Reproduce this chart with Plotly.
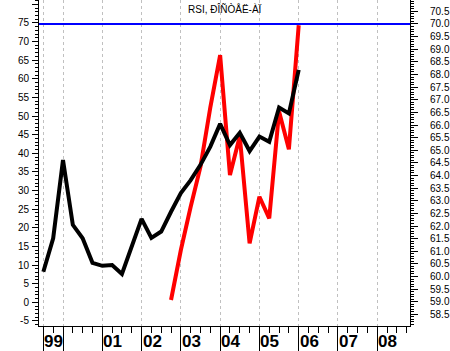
import plotly.graph_objects as go

# ---- data ----
black_quarters = ["1999Q3", "1999Q4",
                  "2000Q1", "2000Q2", "2000Q3", "2000Q4",
                  "2001Q1", "2001Q2", "2001Q3", "2001Q4",
                  "2002Q1", "2002Q2", "2002Q3", "2002Q4",
                  "2003Q1", "2003Q2", "2003Q3", "2003Q4",
                  "2004Q1", "2004Q2", "2004Q3", "2004Q4",
                  "2005Q1", "2005Q2", "2005Q3", "2005Q4",
                  "2006Q1"]
black_values = [8.2, 17.2, 38.2, 20.8, 17.2, 10.6, 9.8, 10.0, 7.6, 14.9,
                22.4, 17.3, 19.0, 24.3, 29.3, 32.8, 36.9, 41.8, 47.9, 42.2,
                45.5, 40.6, 44.5, 43.1, 52.3, 50.7, 62.4]

red_quarters = ["2002Q4",
                "2003Q1", "2003Q2", "2003Q3", "2003Q4",
                "2004Q1", "2004Q2", "2004Q3", "2004Q4",
                "2005Q1", "2005Q2", "2005Q3", "2005Q4",
                "2006Q1"]
red_values = [59.07, 61.05, 62.76, 64.35, 66.7, 68.77, 64.02, 65.55, 61.31,
              63.16, 62.3, 66.53, 65.04, 69.95]

level_value = 70.0

year_tick_positions = [1999.5, 2000, 2001, 2002, 2003, 2004, 2005, 2006, 2007, 2008]
year_label_positions = [1999.5, 2001, 2002, 2003, 2004, 2005, 2006, 2007, 2008]
year_labels = ["99", "01", "02", "03", "04", "05", "06", "07", "08"]

left_tick_vals = [-5, 0, 5, 10, 15, 20, 25, 30, 35, 40, 45, 50, 55, 60, 65, 70, 75, 80]
left_tick_text = ["-5", "0", "5", "10", "15", "20", "25", "30", "35", "40",
                  "45", "50", "55", "60", "65", "70", "75", ""]

title_text = "RSI, ÐÎÑÒÅË-ÀÏ"


def q_to_year(q):
    y, qq = q.split("Q")
    return int(y) + (int(qq) - 1) / 4.0


black_x = [q_to_year(q) for q in black_quarters]
red_x = [q_to_year(q) for q in red_quarters]

FONT = "Liberation Sans, Arial, sans-serif"

fig = go.Figure()

fig.add_trace(go.Scatter(x=red_x, y=red_values, mode="lines",
                         line=dict(color="#ff0000", width=4),
                         yaxis="y", showlegend=False, hoverinfo="skip"))
fig.add_trace(go.Scatter(x=black_x, y=black_values, mode="lines",
                         line=dict(color="#000000", width=4),
                         yaxis="y2", showlegend=False, hoverinfo="skip"))

fig.add_shape(type="line", xref="paper", x0=0, x1=1, yref="y",
              y0=level_value, y1=level_value,
              line=dict(color="#0000ff", width=2))

annotations = [dict(text=title_text, xref="paper", yref="paper", x=0.5, y=1,
                    xanchor="center", yanchor="top", yshift=-1, showarrow=False,
                    font=dict(family=FONT, size=10, color="black"))]
for pos, lab in zip(year_label_positions, year_labels):
    annotations.append(dict(text="<b>" + lab + "</b>", xref="x", yref="paper",
                            x=pos, y=0, xanchor="left", yanchor="middle",
                            xshift=-1, yshift=-15, showarrow=False,
                            font=dict(family=FONT, size=17, color="black")))

fig.update_layout(
    width=450, height=351,
    margin=dict(l=39, r=40, t=0, b=25, pad=0, autoexpand=False),
    paper_bgcolor="white", plot_bgcolor="white",
    font=dict(family=FONT, size=10, color="black"),
    annotations=annotations,
    xaxis=dict(range=[1999.389, 2008.833], tickmode="array",
               tickvals=year_tick_positions, showticklabels=False,
               ticks="outside", ticklen=25, tickwidth=1, tickcolor="black",
               showline=True, linecolor="black", linewidth=1,
               showgrid=True, gridcolor="#c0c0c0", gridwidth=1,
               griddash="3px,3px", zeroline=False, automargin=False,
               minor=dict(ticks="outside", ticklen=6, tickwidth=1,
                          tickcolor="black", tick0=2000, dtick=0.25,
                          showgrid=False)),
    yaxis=dict(range=[58.04, 70.95], side="right", dtick=0.5, tick0=58.5,
               tickformat=".1f", ticks="outside", ticklen=7, tickwidth=1,
               tickcolor="black", showline=True, linecolor="black",
               linewidth=1, showgrid=False, zeroline=False,
               automargin=False, ticklabelstandoff=10,
               minor=dict(ticks="outside", ticklen=3, tickwidth=1,
                          tickcolor="black", dtick=0.1, showgrid=False),
               tickfont=dict(family=FONT, size=10, color="black")),
    yaxis2=dict(range=[-6.36, 81.15], side="left", overlaying="y",
                tickmode="array", tickvals=left_tick_vals,
                ticktext=left_tick_text, ticks="outside", ticklen=6,
                tickwidth=1, tickcolor="black", showline=True,
                linecolor="black", linewidth=1, showgrid=False,
                zeroline=False, automargin=False, ticklabelstandoff=1,
                minor=dict(ticks="outside", ticklen=3, tickwidth=1,
                           tickcolor="black", tick0=0, dtick=1,
                           showgrid=False),
                tickfont=dict(family=FONT, size=10, color="black")),
)

fig.write_html("out.html",
               config={"displayModeBar": False},
               post_script="document.body.style.margin='0';"
                           "document.body.style.overflow='hidden';")
